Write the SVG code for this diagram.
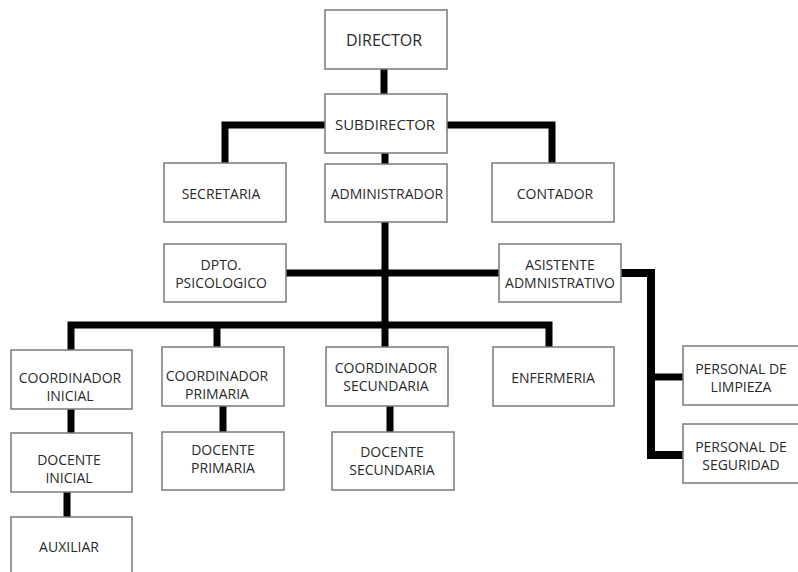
<svg xmlns="http://www.w3.org/2000/svg" width="798" height="572" viewBox="0 0 798 572">
<style>
.box{fill:#fff;stroke:#7a7a7a;stroke-width:1.5}
.t{font-family:"Open Sans","Liberation Sans",sans-serif;font-size:14px;fill:#2a2a2a;text-anchor:middle;dominant-baseline:central}
.c{fill:none;stroke:#000;stroke-width:7;stroke-linejoin:miter}
</style>
<rect width="798" height="572" fill="#fff"/>
<g id="connectors">
<path class="c" d="M384 69V94"/>
<path class="c" d="M325 125H225V163"/>
<path class="c" d="M447 125H552V163"/>
<path class="c" d="M385 153V164"/>
<path class="c" d="M385 222V347"/>
<path class="c" d="M286 273H385"/>
<path class="c" d="M385 273H499"/>
<path class="c" d="M71 350V325H549V347"/>
<path class="c" d="M217 325V347"/>
<path class="c" style="stroke-width:8" d="M621 273H651V455H683"/>
<path class="c" d="M651 377H683"/>
<path class="c" d="M71 409V433"/>
<path class="c" d="M67 492V517"/>
<path class="c" d="M223 406V432"/>
<path class="c" d="M390 406V432"/>
</g>
<g id="director"><rect class="box" x="325" y="10" width="122" height="59"/><text class="t" x="384" y="40" style="font-size:16px">DIRECTOR</text></g>
<g id="subdirector"><rect class="box" x="325" y="94" width="122" height="59"/><text class="t" x="385" y="124" style="font-size:15px">SUBDIRECTOR</text></g>
<g id="secretaria"><rect class="box" x="164" y="163" width="122" height="59"/><text class="t" x="221" y="193">SECRETARIA</text></g>
<g id="administrador"><rect class="box" x="325" y="164" width="122" height="58"/><text class="t" x="387" y="193">ADMINISTRADOR</text></g>
<g id="contador"><rect class="box" x="492" y="163" width="122" height="59"/><text class="t" x="555" y="193">CONTADOR</text></g>
<g id="dpto-psicologico"><rect class="box" x="164" y="244" width="122" height="58"/><text class="t" x="221" y="264">DPTO.</text><text class="t" x="221" y="282">PSICOLOGICO</text></g>
<g id="asistente"><rect class="box" x="499" y="244" width="122" height="58"/><text class="t" x="560" y="264">ASISTENTE</text><text class="t" x="560" y="282">ADMNISTRATIVO</text></g>
<g id="coord-inicial"><rect class="box" x="11" y="350" width="121" height="59"/><text class="t" x="70" y="377">COORDINADOR</text><text class="t" x="70" y="395">INICIAL</text></g>
<g id="coord-primaria"><rect class="box" x="162" y="347" width="122" height="59"/><text class="t" x="217" y="375">COORDINADOR</text><text class="t" x="217" y="393">PRIMARIA</text></g>
<g id="coord-secundaria"><rect class="box" x="326" y="347" width="122" height="59"/><text class="t" x="386" y="367">COORDINADOR</text><text class="t" x="386" y="385">SECUNDARIA</text></g>
<g id="enfermeria"><rect class="box" x="493" y="347" width="121" height="59"/><text class="t" x="553" y="377">ENFERMERIA</text></g>
<g id="personal-limpieza"><rect class="box" x="683" y="346" width="116" height="59"/><text class="t" x="741" y="368">PERSONAL DE</text><text class="t" x="741" y="386">LIMPIEZA</text></g>
<g id="personal-seguridad"><rect class="box" x="683" y="424" width="116" height="59"/><text class="t" x="741" y="446">PERSONAL DE</text><text class="t" x="741" y="464">SEGURIDAD</text></g>
<g id="docente-inicial"><rect class="box" x="11" y="433" width="121" height="59"/><text class="t" x="69" y="459">DOCENTE</text><text class="t" x="69" y="477">INICIAL</text></g>
<g id="docente-primaria"><rect class="box" x="162" y="432" width="122" height="58"/><text class="t" x="223" y="449">DOCENTE</text><text class="t" x="223" y="467">PRIMARIA</text></g>
<g id="docente-secundaria"><rect class="box" x="332" y="432" width="122" height="58"/><text class="t" x="392" y="451">DOCENTE</text><text class="t" x="392" y="469">SECUNDARIA</text></g>
<g id="auxiliar"><rect class="box" x="11" y="517" width="121" height="58"/><text class="t" x="69" y="546">AUXILIAR</text></g>
</svg>
